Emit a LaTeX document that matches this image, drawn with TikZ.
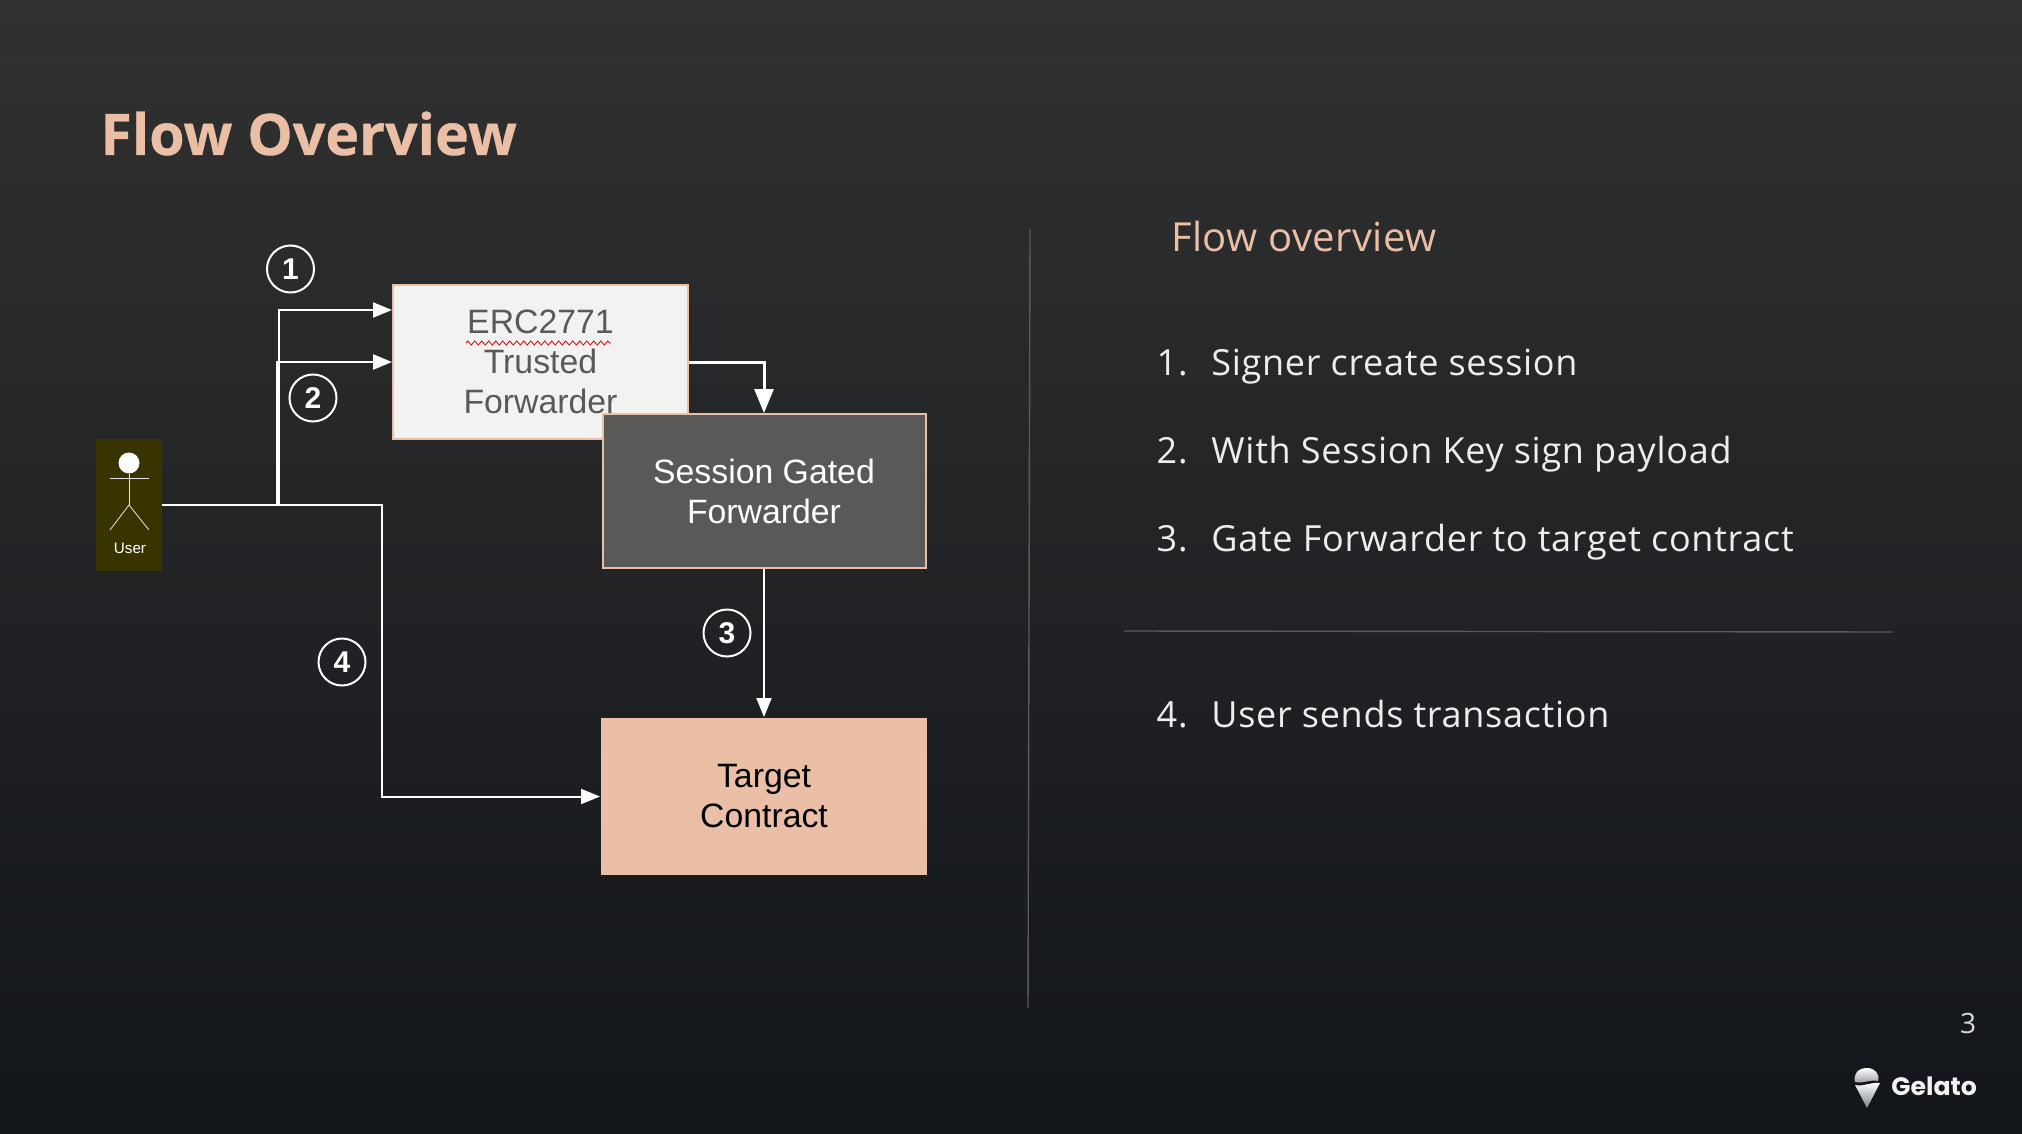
\documentclass[tikz,border=0pt]{standalone}
\usepackage{fontspec}
\setmainfont{Open Sans}
\newfontfamily\arialfont{Liberation Sans}
\newfontfamily\logofont{Poppins}
\usetikzlibrary{arrows.meta, decorations.pathmorphing}

\definecolor{peach}{HTML}{EABFA6}
\definecolor{boxgrey}{HTML}{595959}
\definecolor{userolive}{HTML}{373400}
\definecolor{rulegrey}{HTML}{5A5A5A}
\definecolor{bgtop}{HTML}{313131}
\definecolor{bgmid}{HTML}{202225}
\definecolor{bgbottom}{HTML}{12151A}
\tikzset{
  flowbox/.style = {shape = rectangle, draw = peach, line width = 1pt, minimum width = 147.5pt, minimum height = 77pt, inner sep = 0pt, align = center, font = \arialfont\fontsize{16.9}{20}\selectfont, execute at begin node = \rule{0pt}{15pt}},
  numcircle/.style = {shape = circle, draw = white, line width = 1pt, minimum size = 23.5pt, inner sep = 0pt, text = white, font = \arialfont\bfseries\fontsize{15}{15}\selectfont},
  thinflow/.style = {draw = white, line width = 1pt, -{Triangle[length = 9.5pt, width = 7.5pt]}},
  thickflow/.style = {draw = white, line width = 1.5pt, -{Triangle[length = 12pt, width = 9.5pt]}},
  listnum/.style = {anchor = base east, inner sep = 0pt, text = white!93!black, font = \fontsize{18}{22}\selectfont\addfontfeature{LetterSpace=2}},
  listitem/.style = {anchor = base west, inner sep = 0pt, text = white!93!black, font = \fontsize{18}{22}\selectfont\addfontfeature{LetterSpace=2}},
  stick/.style = {draw = white!90!black, line width = 0.4pt}
}

\begin{document}
\begin{tikzpicture}[x = 0.5pt, y = -0.5pt]
   \useasboundingbox (0,0) rectangle (2022,1134);
   \shade [top color = bgtop, middle color = bgmid, bottom color = bgbottom] (0,0) rectangle (2022,1134);

   \node(title) at (100,155) [anchor = base west, inner sep = 0pt, text = peach, font = \bfseries\fontsize{28.6}{34}\selectfont\addfontfeature{FakeBold=0.6}] {Flow Overview};

   \node(trusted) at (540.5,362) [flowbox, fill = white!95!black, text = boxgrey] {ERC2771\\Trusted\\Forwarder};
   \node(session) at (764,491) [flowbox, minimum width = 161.5pt, fill = boxgrey, text = white] {Session Gated\\Forwarder};
   \node(target) at (764,796.5) [flowbox, minimum width = 163pt, minimum height = 78.5pt, fill = peach, draw = none, text = black] {Target\\Contract};
   \node(user) at (129,505) [shape = rectangle, fill = userolive, minimum width = 33pt, minimum height = 66pt, inner sep = 0pt] {};
   \node(userlabel) at (130,548) [text = white, inner sep = 0pt, font = \arialfont\fontsize{7.6}{9}\selectfont] {User};

   \node(head) at (129,463) [shape = circle, fill = white, minimum size = 10.5pt, inner sep = 0pt] {};
   \coordinate(neck) at (129,505);
   \draw [stick] (head) to (neck);
   \draw [stick] (110,478) to (149,478);
   \draw [stick] (110,530) to (neck) to (149,530);

   \coordinate(squigl) at (466,343);
   \coordinate(squigr) at (611,343);
   \draw [red!85!black, line width = 0.4pt, decorate, decoration = {zigzag, segment length = 3.5pt, amplitude = 1pt}] (squigl) to (squigr);

   \coordinate(up1) at (279,505);
   \coordinate(up2) at (277,505);
   \coordinate(in1) at (392,310);
   \coordinate(bend) at (382,505);
   \draw [thinflow] (up1) |- (in1);
   \draw [thinflow, line width = 1.25pt] (up2) |- (trusted.west);
   \draw [thickflow] (trusted.east) -| (session.north);
   \draw [thinflow] (session.south) to (target.north);
   \draw [thinflow] (user.east) -- (bend) |- (target.west);

   \node(one) at (290.5,269) [numcircle] {1};
   \node(two) at (313,398) [numcircle] {2};
   \node(three) at (727,633) [numcircle] {3};
   \node(four) at (342,662) [numcircle] {4};

   \coordinate(vtop) at (1030,229);
   \coordinate(vbot) at (1028,1008);
   \coordinate(hleft) at (1124,631);
   \coordinate(hright) at (1893,632);
   \draw [rulegrey, line width = 0.7pt] (vtop) to (vbot);
   \draw [rulegrey, line width = 0.7pt] (hleft) to (hright);

   \node(heading) at (1171,251) [anchor = base west, inner sep = 0pt, text = peach, font = \fontsize{20}{24}\selectfont\addfontfeature{LetterSpace=1}] {Flow overview};

   \node(n1) at (1188,375) [listnum] {1.};
   \node(i1) at (1211,375) [listitem] {Signer create session};
   \node(n2) at (1188,463) [listnum] {2.};
   \node(i2) at (1211,463) [listitem] {With Session Key sign payload};
   \node(n3) at (1188,551) [listnum] {3.};
   \node(i3) at (1211,551) [listitem] {Gate Forwarder to target contract};
   \node(n4) at (1188,727) [listnum] {4.};
   \node(i4) at (1211,727) [listitem] {User sends transaction};

   \node(page) at (1968,1033) [anchor = base, inner sep = 0pt, text = white!85!black, font = \fontsize{14}{16}\selectfont] {3};

   \shade [top color = white, bottom color = white!60!black] (1855,1082) .. controls (1853,1074) and (1858,1068) .. (1867,1068) .. controls (1875,1068) and (1880,1074) .. (1878,1081) .. controls (1870,1079) and (1863,1084) .. (1855,1082) -- cycle;
   \shade [top color = white, bottom color = white!50!black] (1855,1085) .. controls (1863,1087) and (1870,1082) .. (1880,1083) -- (1867,1108) -- cycle;
   \node(logo) at (1891,1095) [anchor = base west, inner sep = 0pt, text = white!95!black, font = \logofont\bfseries\fontsize{12.6}{14}\selectfont] {Gelato};
\end{tikzpicture}
\end{document}
